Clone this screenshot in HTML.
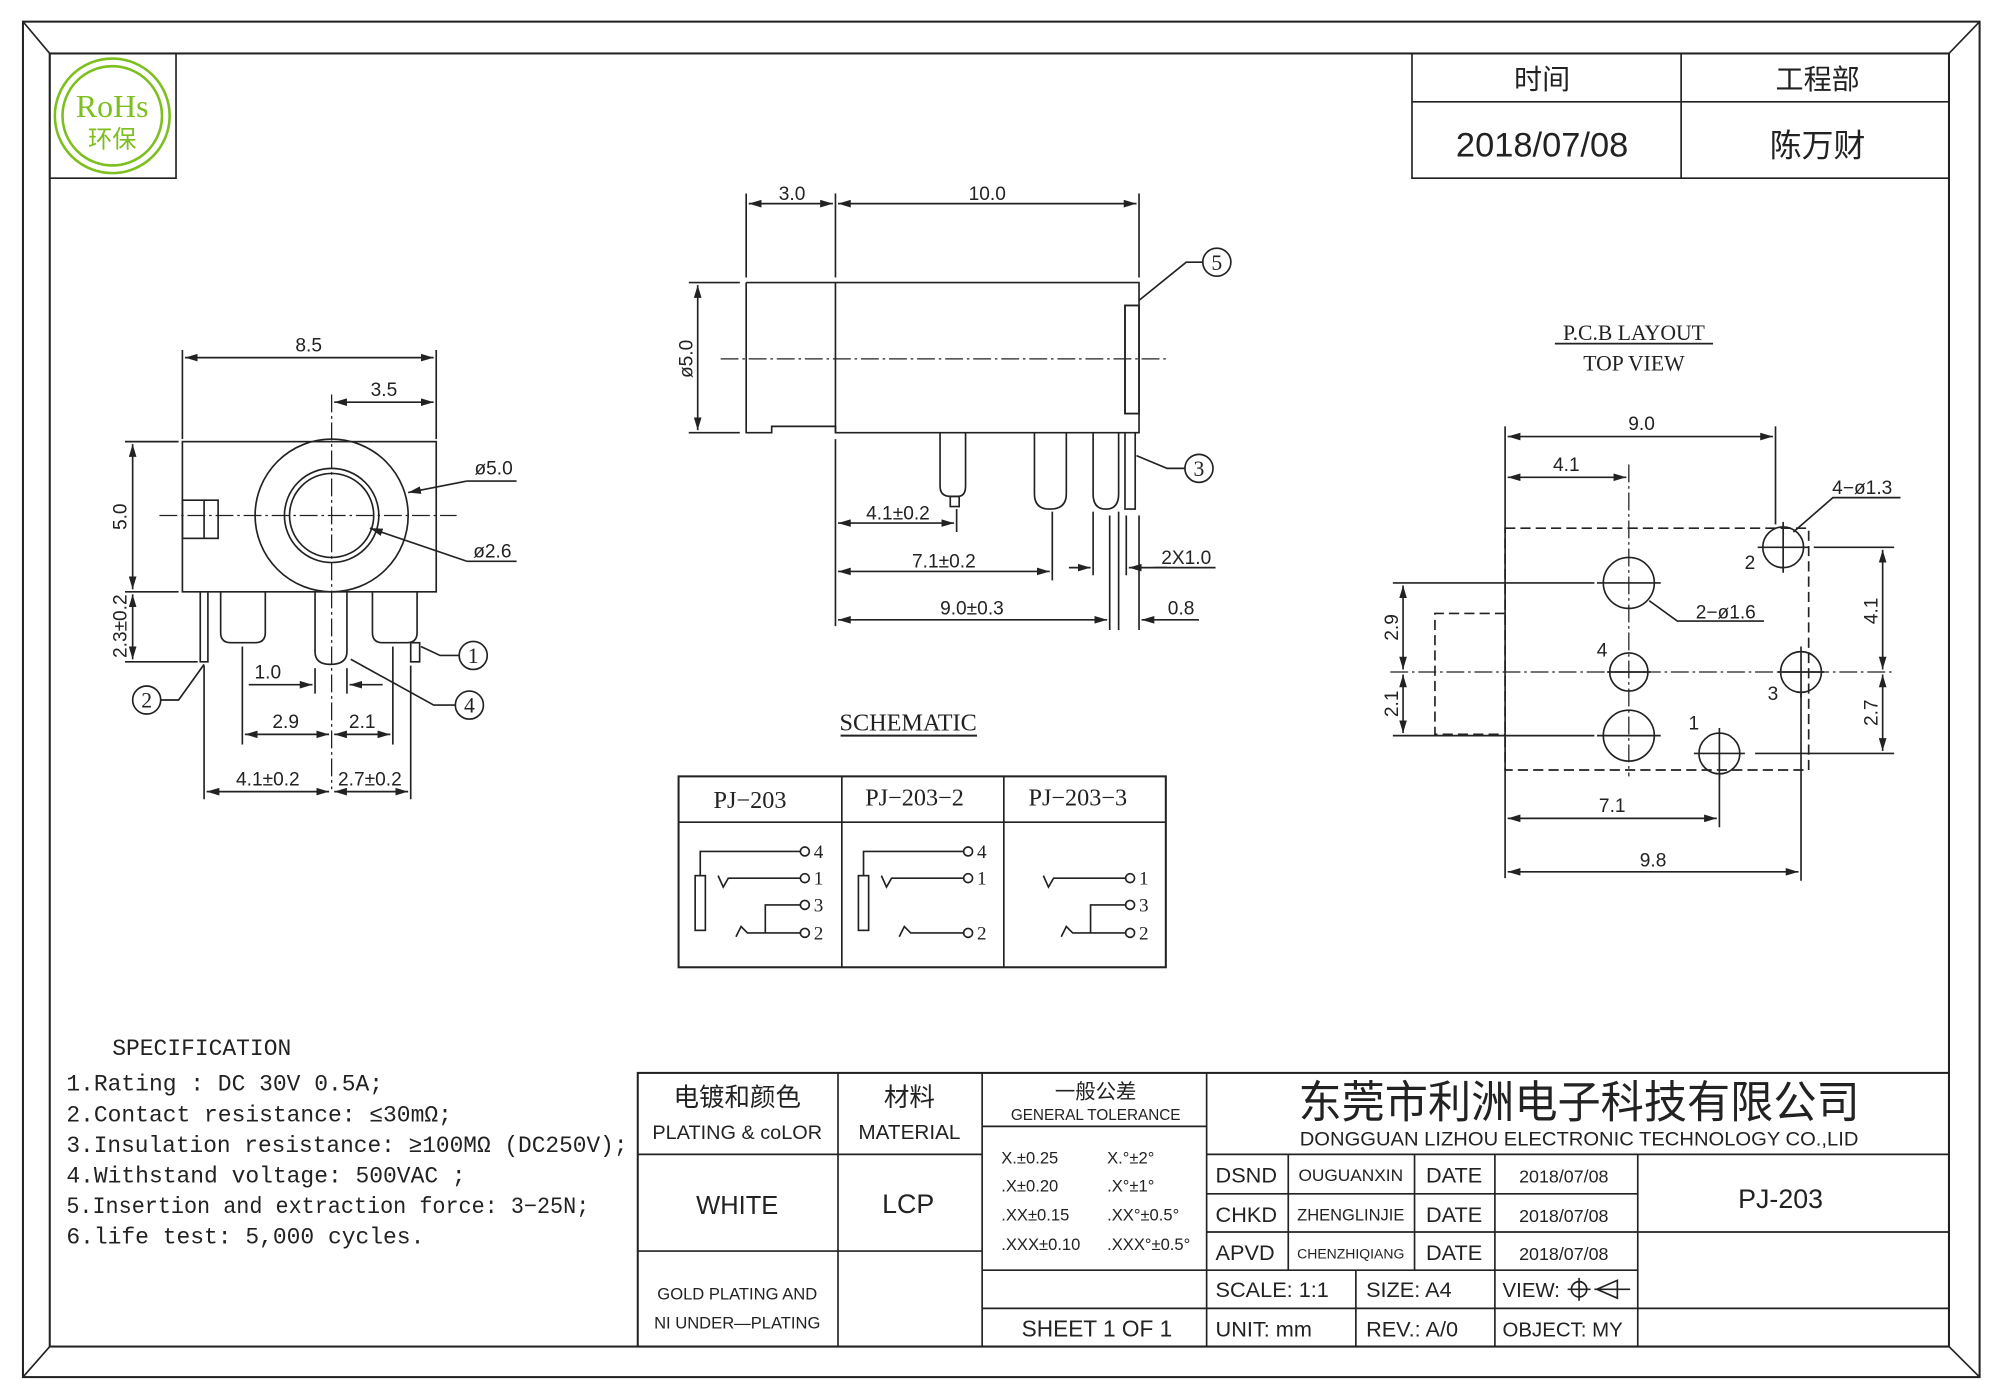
<!DOCTYPE html>
<html><head><meta charset="utf-8"><style>
html,body{margin:0;padding:0;background:#fff;}
svg{display:block;}
text{font-family:"Liberation Sans","Noto Sans CJK SC",sans-serif;fill:#222;}
.s,.s text{font-family:"Liberation Serif","Noto Serif CJK SC",serif;}
.m,.m text{font-family:"Liberation Mono","Noto Sans CJK SC",monospace;}
</style></head><body>
<svg width="2000" height="1400" viewBox="0 0 1568 1100" preserveAspectRatio="none" xmlns="http://www.w3.org/2000/svg">
<defs>
<marker id="a" viewBox="0 0 10 6" refX="10" refY="3" markerWidth="10" markerHeight="6" orient="auto-start-reverse" markerUnits="userSpaceOnUse"><path d="M0,0 L10,3 L0,6 z" fill="#222"/></marker>
</defs>
<g fill="none" stroke="#222" stroke-width="1.3">
<rect x="18" y="17" width="1534" height="1065" stroke-width="1.6"/>
<rect x="39" y="42" width="1489" height="1016" stroke-width="1.6"/>
<line x1="18" y1="17" x2="39" y2="42"/><line x1="1552" y1="17" x2="1528" y2="42"/>
<line x1="18" y1="1082" x2="39" y2="1058"/><line x1="1552" y1="1082" x2="1528" y2="1058"/>
<rect x="39" y="42" width="99" height="98"/>
<circle cx="88" cy="91" r="45" stroke="#7cbf1e" stroke-width="2"/>
<circle cx="88" cy="91" r="39" stroke="#7cbf1e" stroke-width="2"/>
<rect x="1107" y="42" width="421" height="98"/>
<line x1="1107" y1="80" x2="1528" y2="80"/><line x1="1318" y1="42" x2="1318" y2="140"/>

<rect x="143" y="347" width="199" height="118"/>
<circle cx="260" cy="405" r="60"/><circle cx="260" cy="405" r="37"/><circle cx="260" cy="405" r="33"/>
<rect x="143" y="393" width="28" height="30"/><line x1="160" y1="393" x2="160" y2="423"/>
<g stroke-dasharray="14,3,2,3" stroke-width="1">
<line x1="125" y1="405" x2="358" y2="405"/><line x1="260" y1="310" x2="260" y2="620"/></g>
<path d="M173,465 V497 Q173,505 181,505 H200 Q208,505 208,497 V465"/>
<path d="M247,465 V512 Q247,522 259,522 Q272,522 272,512 V465"/>
<path d="M292,465 V497 Q292,505 300,505 H319 Q327,505 327,497 V465"/>
<path d="M157,465 V520 H163 V465"/>
<rect x="322" y="505" width="7" height="15"/>
<line x1="143" y1="275" x2="143" y2="345"/><line x1="342" y1="275" x2="342" y2="345"/>
<line x1="145" y1="281" x2="340" y2="281" marker-start="url(#a)" marker-end="url(#a)"/>
<line x1="262" y1="316" x2="340" y2="316" marker-start="url(#a)" marker-end="url(#a)"/>
<line x1="98" y1="347" x2="140" y2="347"/><line x1="98" y1="465" x2="140" y2="465"/><line x1="98" y1="520" x2="155" y2="520"/>
<line x1="104" y1="349" x2="104" y2="463" marker-start="url(#a)" marker-end="url(#a)"/>
<line x1="104" y1="467" x2="104" y2="518" marker-start="url(#a)" marker-end="url(#a)"/>
<line x1="247" y1="525" x2="247" y2="545"/><line x1="272" y1="525" x2="272" y2="545"/>
<line x1="195" y1="538" x2="245" y2="538" marker-end="url(#a)"/><line x1="300" y1="538" x2="274" y2="538" marker-end="url(#a)"/>
<line x1="190" y1="508" x2="190" y2="585"/><line x1="308" y1="508" x2="308" y2="585"/>
<line x1="160" y1="523" x2="160" y2="628"/><line x1="322" y1="523" x2="322" y2="628"/>
<line x1="192" y1="577" x2="258" y2="577" marker-start="url(#a)" marker-end="url(#a)"/>
<line x1="262" y1="577" x2="306" y2="577" marker-start="url(#a)" marker-end="url(#a)"/>
<line x1="162" y1="622" x2="258" y2="622" marker-start="url(#a)" marker-end="url(#a)"/>
<line x1="262" y1="622" x2="320" y2="622" marker-start="url(#a)" marker-end="url(#a)"/>
<line x1="366" y1="378" x2="405" y2="378"/><line x1="366" y1="378" x2="320" y2="387" marker-end="url(#a)"/>
<line x1="366" y1="441" x2="405" y2="441"/><line x1="366" y1="441" x2="290" y2="415" marker-end="url(#a)"/>
<circle cx="371" cy="515" r="11"/><path d="M360,515 H345 L330,508"/>
<circle cx="368" cy="554" r="11"/><path d="M357,554 H340 L275,518"/>
<circle cx="115" cy="550" r="11"/><path d="M126,550 H140 L160,522"/>

<path d="M585,222 H893 V325 H882 V240 H893"/>
<path d="M585,222 V340 H605 V335 H655 V340 H893 V325"/>
<line x1="655" y1="222" x2="655" y2="340"/>
<rect x="882" y="240" width="11" height="85"/>
<line x1="565" y1="282" x2="915" y2="282" stroke-dasharray="14,3,2,3" stroke-width="1"/>
<line x1="585" y1="152" x2="585" y2="218"/><line x1="655" y1="152" x2="655" y2="218"/><line x1="893" y1="152" x2="893" y2="218"/>
<line x1="587" y1="160" x2="653" y2="160" marker-start="url(#a)" marker-end="url(#a)"/>
<line x1="657" y1="160" x2="891" y2="160" marker-start="url(#a)" marker-end="url(#a)"/>
<line x1="540" y1="222" x2="580" y2="222"/><line x1="540" y1="340" x2="580" y2="340"/>
<line x1="547" y1="224" x2="547" y2="338" marker-start="url(#a)" marker-end="url(#a)"/>
<path d="M737,340 V382 Q737,390 745,390 H751 Q757,390 757,382 V340"/>
<rect x="745" y="390" width="7" height="8"/>
<path d="M811,340 V388 Q811,400 823,400 Q836,400 836,388 V340"/>
<path d="M857,340 V388 Q857,400 867,400 Q877,400 877,388 V340"/>
<path d="M882,340 V400 H890 V340"/>
<line x1="655" y1="345" x2="655" y2="492"/>
<line x1="750" y1="400" x2="750" y2="418"/><line x1="825" y1="402" x2="825" y2="456"/>
<line x1="857" y1="402" x2="857" y2="452"/><line x1="877" y1="402" x2="877" y2="495"/>
<line x1="883" y1="405" x2="883" y2="452"/><line x1="870" y1="405" x2="870" y2="495"/><line x1="893" y1="405" x2="893" y2="495"/>
<line x1="657" y1="411" x2="748" y2="411" marker-start="url(#a)" marker-end="url(#a)"/>
<line x1="657" y1="449" x2="823" y2="449" marker-start="url(#a)" marker-end="url(#a)"/>
<line x1="838" y1="446" x2="855" y2="446" marker-end="url(#a)"/><line x1="915" y1="446" x2="885" y2="446" marker-end="url(#a)"/><line x1="905" y1="446" x2="953" y2="446"/>
<line x1="657" y1="487" x2="868" y2="487" marker-start="url(#a)" marker-end="url(#a)"/>
<line x1="940" y1="487" x2="895" y2="487" marker-end="url(#a)"/>
<circle cx="954" cy="206" r="11"/><path d="M943,206 H930 L893,236"/>
<circle cx="940" cy="368" r="11"/><path d="M929,368 H915 L891,358"/>
<line x1="659" y1="578" x2="766" y2="578" stroke-width="1.5"/>

<rect x="532" y="610" width="382" height="150" stroke-width="1.6"/>
<line x1="532" y1="646" x2="914" y2="646"/><line x1="660" y1="610" x2="660" y2="760"/><line x1="787" y1="610" x2="787" y2="760"/>
<rect x="545" y="688" width="8" height="43"/><path d="M549,688 V669 H628"/>
<path d="M563,688 L567,697 L571,690 H628"/>
<path d="M600,733 V711 H628"/>
<path d="M577,736 L581,728 L586,733 H628"/>
<circle cx="631" cy="669" r="3.5"/><circle cx="631" cy="690" r="3.5"/><circle cx="631" cy="711" r="3.5"/><circle cx="631" cy="733" r="3.5"/>
<g transform="translate(128,0)"><rect x="545" y="688" width="8" height="43"/><path d="M549,688 V669 H628"/>
<path d="M563,688 L567,697 L571,690 H628"/><path d="M577,736 L581,728 L586,733 H628"/>
<circle cx="631" cy="669" r="3.5"/><circle cx="631" cy="690" r="3.5"/><circle cx="631" cy="733" r="3.5"/></g>
<g transform="translate(255,0)"><path d="M563,688 L567,697 L571,690 H628"/><path d="M600,733 V711 H628"/>
<path d="M577,736 L581,728 L586,733 H628"/>
<circle cx="631" cy="690" r="3.5"/><circle cx="631" cy="711" r="3.5"/><circle cx="631" cy="733" r="3.5"/></g>

<line x1="1219" y1="270" x2="1343" y2="270"/>
<g stroke-dasharray="8,4">
<rect x="1180" y="415" width="238" height="190"/>
<path d="M1180,482 H1125 V577 H1180"/>
</g>
<g stroke-dasharray="14,3,2,3" stroke-width="1">
<line x1="1090" y1="528" x2="1485" y2="528"/>
<line x1="1277" y1="365" x2="1277" y2="610"/>
</g>
<line x1="1180" y1="335" x2="1180" y2="690"/>
<line x1="1392" y1="335" x2="1392" y2="412"/>
<line x1="1412" y1="545" x2="1412" y2="692"/>
<line x1="1348" y1="608" x2="1348" y2="650"/>
<line x1="1182" y1="343" x2="1390" y2="343" marker-start="url(#a)" marker-end="url(#a)"/>
<line x1="1182" y1="375" x2="1275" y2="375" marker-start="url(#a)" marker-end="url(#a)"/>
<line x1="1182" y1="643" x2="1346" y2="643" marker-start="url(#a)" marker-end="url(#a)"/>
<line x1="1182" y1="685" x2="1410" y2="685" marker-start="url(#a)" marker-end="url(#a)"/>
<line x1="1422" y1="430" x2="1485" y2="430"/><line x1="1376" y1="592" x2="1485" y2="592"/>
<line x1="1476" y1="432" x2="1476" y2="526" marker-start="url(#a)" marker-end="url(#a)"/>
<line x1="1476" y1="530" x2="1476" y2="590" marker-start="url(#a)" marker-end="url(#a)"/>
<line x1="1092" y1="458" x2="1250" y2="458"/><line x1="1092" y1="578" x2="1250" y2="578"/>
<line x1="1100" y1="460" x2="1100" y2="526" marker-start="url(#a)" marker-end="url(#a)"/>
<line x1="1100" y1="530" x2="1100" y2="576" marker-start="url(#a)" marker-end="url(#a)"/>
<circle cx="1277" cy="458" r="20"/><circle cx="1277" cy="578" r="20"/><circle cx="1277" cy="528" r="15"/>
<circle cx="1398" cy="430" r="16"/><circle cx="1412" cy="528" r="16"/><circle cx="1348" cy="592" r="16"/>
<path d="M1252,458 H1302 M1252,578 H1302 M1260,528 H1294"/>
<path d="M1378,430 H1418 M1398,410 V450 M1394,528 H1430 M1412,508 V548 M1328,592 H1368 M1348,572 V612"/>
<path d="M1460,391 H1490 M1460,391 L1437,391 L1406,418" />
<path d="M1326,488 H1383 M1326,488 L1315,488 L1293,472"/>

<rect x="500" y="843" width="1028" height="215" stroke-width="1.6"/>
<line x1="657" y1="843" x2="657" y2="1058"/><line x1="770" y1="843" x2="770" y2="1058"/><line x1="946" y1="843" x2="946" y2="1058"/>
<line x1="500" y1="907" x2="770" y2="907"/><line x1="500" y1="983" x2="770" y2="983"/>
<line x1="770" y1="885" x2="946" y2="885"/>
<line x1="946" y1="907" x2="1528" y2="907"/>
<line x1="946" y1="938" x2="1284" y2="938"/><line x1="946" y1="968" x2="1528" y2="968"/>
<line x1="770" y1="998" x2="1284" y2="998"/><line x1="770" y1="1028" x2="1528" y2="1028"/>
<line x1="1010" y1="907" x2="1010" y2="998"/><line x1="1109" y1="907" x2="1109" y2="998"/>
<line x1="1172" y1="907" x2="1172" y2="1058"/><line x1="1284" y1="907" x2="1284" y2="1058"/>
<line x1="1063" y1="998" x2="1063" y2="1058"/>
<circle cx="1238" cy="1013" r="6"/><path d="M1229,1013 H1247 M1238,1004 V1022 M1252,1013 L1268,1006 V1020 Z M1250,1013 H1278"/>
</g>

<text x="88" y="92" text-anchor="middle" class="s" font-size="25" style="fill:#7cbf1e">RoHs</text>
<text x="88" y="116" text-anchor="middle" font-size="19" style="fill:#7cbf1e">环保</text>
<g font-size="22" text-anchor="middle">
<text x="1209" y="70">时间</text><text x="1425" y="70">工程部</text>
<text x="1209" y="123" font-size="27">2018/07/08</text><text x="1425" y="123" font-size="25">陈万财</text>
</g>
<g font-size="15" text-anchor="middle">
<text x="242" y="276">8.5</text><text x="301" y="311">3.5</text>
<text x="387" y="373">ø5.0</text><text x="386" y="438">ø2.6</text>
<text x="210" y="533">1.0</text><text x="224" y="572">2.9</text><text x="284" y="572">2.1</text>
<text x="210" y="617">4.1±0.2</text><text x="290" y="617">2.7±0.2</text>
<text transform="translate(99,406) rotate(-90)">5.0</text>
<text transform="translate(99,492) rotate(-90)">2.3±0.2</text>
<text x="621" y="157">3.0</text><text x="774" y="157">10.0</text>
<text transform="translate(543,282) rotate(-90)">ø5.0</text>
<text x="704" y="408">4.1±0.2</text><text x="740" y="446">7.1±0.2</text><text x="930" y="443">2X1.0</text>
<text x="762" y="483">9.0±0.3</text><text x="926" y="483">0.8</text>
<text x="1287" y="338">9.0</text><text x="1228" y="370">4.1</text><text x="1264" y="638">7.1</text><text x="1296" y="681">9.8</text>
<text x="1460" y="388">4−ø1.3</text><text x="1353" y="486">2−ø1.6</text>
<text transform="translate(1472,480) rotate(-90)">4.1</text>
<text transform="translate(1472,560) rotate(-90)">2.7</text>
<text transform="translate(1096,493) rotate(-90)">2.9</text>
<text transform="translate(1096,553) rotate(-90)">2.1</text>
<text x="1372" y="447">2</text><text x="1256" y="516">4</text><text x="1390" y="550">3</text><text x="1328" y="573">1</text>
</g>
<g class="s" font-size="17" text-anchor="middle">
<text x="371" y="521">1</text><text x="368" y="560">4</text><text x="115" y="556">2</text>
<text x="954" y="212">5</text><text x="940" y="374">3</text>
</g>
<g class="s" font-size="17" text-anchor="middle">
<text x="1281" y="267">P.C.B LAYOUT</text><text x="1281" y="291">TOP VIEW</text>
<text x="712" y="574" font-size="19">SCHEMATIC</text>
<text x="588" y="635" font-size="19">PJ−203</text><text x="717" y="633" font-size="19">PJ−203−2</text><text x="845" y="633" font-size="19">PJ−203−3</text>
</g>
<g class="s" font-size="15">
<text x="638" y="674">4</text><text x="638" y="695">1</text><text x="638" y="716">3</text><text x="638" y="738">2</text>
<text x="766" y="674">4</text><text x="766" y="695">1</text><text x="766" y="738">2</text>
<text x="893" y="695">1</text><text x="893" y="716">3</text><text x="893" y="738">2</text>
</g>
<g class="m" font-size="18">
<text x="88" y="829">SPECIFICATION</text>
<text x="52" y="857">1.Rating : DC 30V 0.5A;</text>
<text x="52" y="881">2.Contact resistance: ≤30mΩ;</text>
<text x="52" y="905" textLength="440" lengthAdjust="spacingAndGlyphs">3.Insulation resistance: ≥100MΩ (DC250V);</text>
<text x="52" y="929">4.Withstand voltage: 500VAC ;</text>
<text x="52" y="953" textLength="410" lengthAdjust="spacingAndGlyphs">5.Insertion and extraction force: 3−25N;</text>
<text x="52" y="977">6.life test: 5,000 cycles.</text>
</g>
<g text-anchor="middle">
<text x="578" y="869" font-size="20">电镀和颜色</text>
<text x="578" y="895" font-size="15" textLength="133" lengthAdjust="spacingAndGlyphs">PLATING &amp; coLOR</text>
<text x="713" y="869" font-size="20">材料</text>
<text x="713" y="895" font-size="16" textLength="80" lengthAdjust="spacingAndGlyphs">MATERIAL</text>
<text x="859" y="863" font-size="16">一般公差</text>
<text x="859" y="880" font-size="12" textLength="133" lengthAdjust="spacingAndGlyphs">GENERAL TOLERANCE</text>
<text x="578" y="954" font-size="20">WHITE</text>
<text x="712" y="953" font-size="21">LCP</text>
<text x="578" y="1021" font-size="13">GOLD PLATING AND</text>
<text x="578" y="1044" font-size="13">NI UNDER—PLATING</text>
<text x="1238" y="878" font-size="35" textLength="440" lengthAdjust="spacingAndGlyphs">东莞市利洲电子科技有限公司</text>
<text x="1238" y="900" font-size="15" textLength="438" lengthAdjust="spacingAndGlyphs">DONGGUAN LIZHOU ELECTRONIC TECHNOLOGY CO.,LID</text>
<text x="1396" y="949" font-size="21">PJ-203</text>
<text x="860" y="1050" font-size="18" textLength="118" lengthAdjust="spacingAndGlyphs">SHEET 1 OF 1</text>
</g>
<g font-size="13">
<text x="785" y="914">X.±0.25</text><text x="868" y="914">X.°±2°</text>
<text x="785" y="936">.X±0.20</text><text x="868" y="936">.X°±1°</text>
<text x="785" y="959">.XX±0.15</text><text x="868" y="959">.XX°±0.5°</text>
<text x="785" y="982">.XXX±0.10</text><text x="868" y="982">.XXX°±0.5°</text>
</g>
<g font-size="17">
<text x="953" y="929">DSND</text><text x="953" y="960">CHKD</text><text x="953" y="990">APVD</text>
<text x="1118" y="929">DATE</text><text x="1118" y="960">DATE</text><text x="1118" y="990">DATE</text>
<text x="1191" y="929" font-size="14">2018/07/08</text><text x="1191" y="960" font-size="14">2018/07/08</text><text x="1191" y="990" font-size="14">2018/07/08</text>
<text x="1018" y="928" font-size="13" textLength="82" lengthAdjust="spacingAndGlyphs">OUGUANXIN</text>
<text x="1017" y="959" font-size="13" textLength="84" lengthAdjust="spacingAndGlyphs">ZHENGLINJIE</text>
<text x="1017" y="989" font-size="11" textLength="84" lengthAdjust="spacingAndGlyphs">CHENZHIQIANG</text>
<text x="953" y="1019">SCALE: 1:1</text><text x="1071" y="1019">SIZE: A4</text><text x="1178" y="1019" font-size="16">VIEW:</text>
<text x="953" y="1050">UNIT: mm</text><text x="1071" y="1050">REV.: A/0</text><text x="1178" y="1050" font-size="16">OBJECT: MY</text>
</g>
</svg>
</body></html>
